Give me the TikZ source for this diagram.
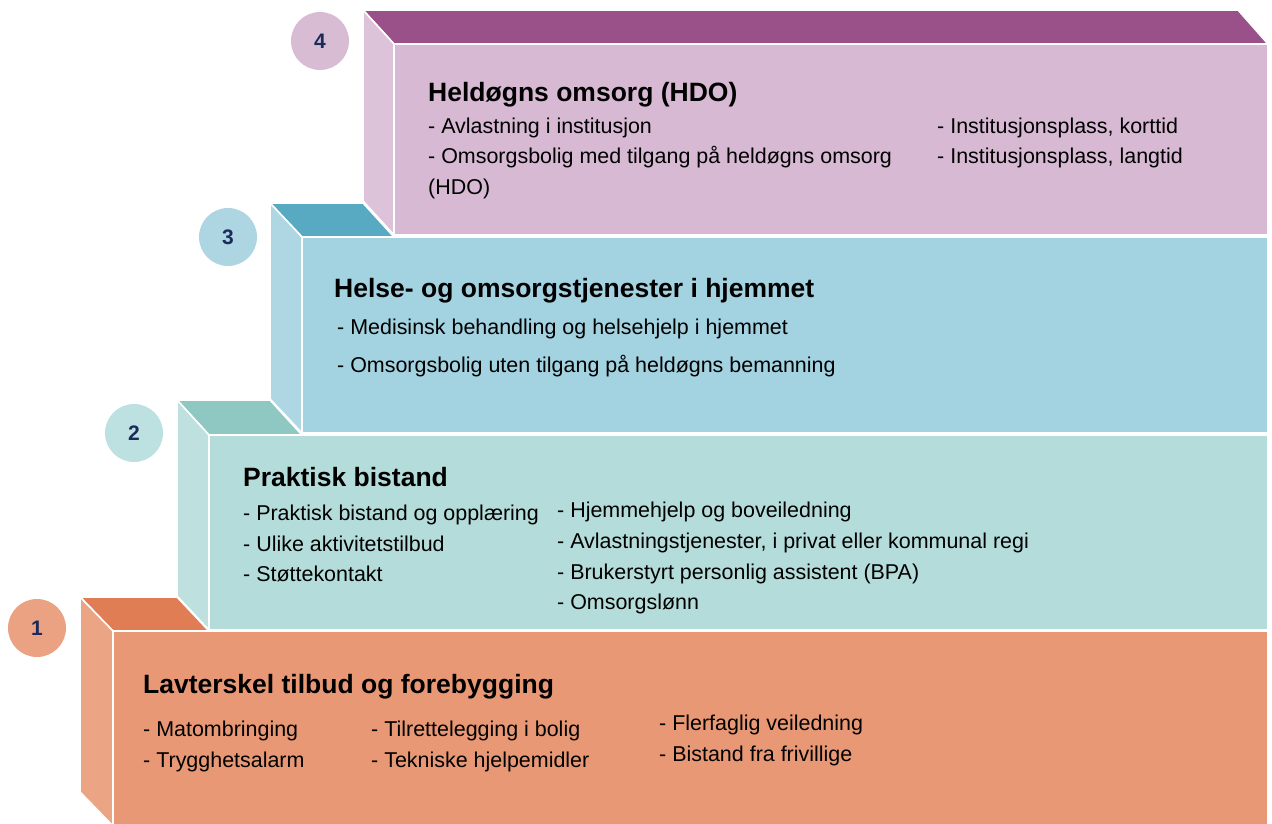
\documentclass[tikz,border=0pt]{standalone}
\usepackage{fontspec}
\setmainfont{Liberation Sans}
\definecolor{pfront}{HTML}{D7B9D3}
\definecolor{pside}{HTML}{DCC3D9}
\definecolor{ptop}{HTML}{9A5089}
\definecolor{bfront}{HTML}{A3D2E0}
\definecolor{bside}{HTML}{AFD7E3}
\definecolor{btop}{HTML}{58A9C2}
\definecolor{gfront}{HTML}{B4DCDA}
\definecolor{gside}{HTML}{BEE1DF}
\definecolor{gtop}{HTML}{8FC8C3}
\definecolor{ofront}{HTML}{E89874}
\definecolor{oside}{HTML}{EBA484}
\definecolor{otop}{HTML}{E07D55}
\definecolor{cp}{HTML}{D8BCD4}
\definecolor{cb}{HTML}{ADD6E2}
\definecolor{cg}{HTML}{BDE1E0}
\definecolor{co}{HTML}{EBA283}
\definecolor{numcol}{HTML}{1B2A5C}
\tikzset{
  face/.style={draw=white, line width=1.6pt, line join=miter},
  ttl/.style={anchor=base west, inner sep=0pt, font=\fontsize{26.5}{31}\selectfont\bfseries},
  itm/.style={anchor=base west, inner sep=0pt, font=\fontsize{21.45}{25}\selectfont},
  numc/.style={circle, minimum size=58pt, inner sep=0pt, text=numcol, font=\fontsize{21}{24}\selectfont\bfseries}
}
\begin{document}
\begin{tikzpicture}[x=1pt,y=-1pt]
\useasboundingbox (0,0) rectangle (1272,824);
% step 4
\draw[face, fill=pfront] (394,44) rectangle (1268,235);
\draw[face, fill=ptop] (363,10) -- (1238,10) -- (1268,44) -- (394,44) -- cycle;
\draw[face, fill=pside] (363,10) -- (394,44) -- (394,235) -- (363,201) -- cycle;
% step 3
\draw[face, fill=btop] (270,203) -- (363,203) -- (394,237) -- (302,237) -- cycle;
\draw[face, fill=bside] (270,203) -- (302,237) -- (302,433) -- (270,399) -- cycle;
\draw[face, fill=bfront] (302,237) rectangle (1268,433);
% step 2
\draw[face, fill=gtop] (177,400) -- (270,400) -- (302,435) -- (209,435) -- cycle;
\draw[face, fill=gside] (177,400) -- (209,435) -- (209,630) -- (177,596) -- cycle;
\draw[face, fill=gfront] (209,435) rectangle (1268,630);
% step 1
\draw[face, fill=otop] (80,597) -- (177,597) -- (209,631) -- (113,631) -- cycle;
\draw[face, fill=oside] (80,597) -- (113,631) -- (113,826) -- (80,792) -- cycle;
\draw[face, fill=ofront] (113,631) rectangle (1268,826);
% circles
\node[numc, fill=cp] (n4) at (320,41) {4};
\node[numc, fill=cb] (n3) at (228,237) {3};
\node[numc, fill=cg] (n2) at (134,433) {2};
\node[numc, fill=co] (n1) at (37,628) {1};
% texts step 4
\node[ttl] (t4) at (428,101.5) {Heldøgns omsorg (HDO)};
\node[itm] (t4a) at (428,134) {- Avlastning i institusjon};
\node[itm] (t4b) at (428,164) {- Omsorgsbolig med tilgang på heldøgns omsorg};
\node[itm] (t4c) at (428,194) {(HDO)};
\node[itm] (t4d) at (937,134) {- Institusjonsplass, korttid};
\node[itm] (t4e) at (937,164) {- Institusjonsplass, langtid};
% step 3
\node[ttl] (t3) at (334,297) {Helse- og omsorgstjenester i hjemmet};
\node[itm] (t3a) at (337,334) {- Medisinsk behandling og helsehjelp i hjemmet};
\node[itm] (t3b) at (337,372) {- Omsorgsbolig uten tilgang på heldøgns bemanning};
% step 2
\node[ttl] (t2) at (243,486) {Praktisk bistand};
\node[itm] (t2a) at (243,520) {- Praktisk bistand og opplæring};
\node[itm] (t2b) at (243,551) {- Ulike aktivitetstilbud};
\node[itm] (t2c) at (243,581) {- Støttekontakt};
\node[itm] (t2d) at (557,517) {- Hjemmehjelp og boveiledning};
\node[itm] (t2e) at (557,548) {- Avlastningstjenester, i privat eller kommunal regi};
\node[itm] (t2f) at (557,579) {- Brukerstyrt personlig assistent (BPA)};
\node[itm] (t2g) at (557,609) {- Omsorgslønn};
% step 1
\node[ttl] (t1) at (143,693.5) {Lavterskel tilbud og forebygging};
\node[itm] (t1a) at (143,736) {- Matombringing};
\node[itm] (t1b) at (143,767) {- Trygghetsalarm};
\node[itm] (t1c) at (371,736) {- Tilrettelegging i bolig};
\node[itm] (t1d) at (371,767) {- Tekniske hjelpemidler};
\node[itm] (t1e) at (659,730) {- Flerfaglig veiledning};
\node[itm] (t1f) at (659,761) {- Bistand fra frivillige};
\end{tikzpicture}
\end{document}
